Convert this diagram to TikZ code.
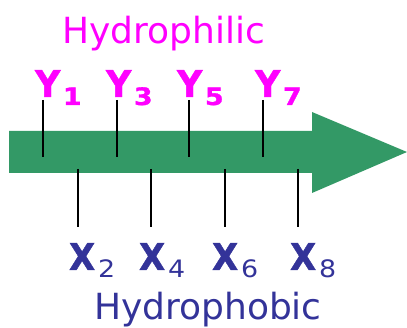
\documentclass[tikz,border=0pt]{standalone}
\usepackage{fontspec}
\setmainfont{DejaVu Sans}
\newfontfamily\heavyfont[FakeBold=1.2]{DejaVu Sans Bold}
\definecolor{arrowgreen}{HTML}{339966}
\definecolor{philc}{HTML}{FF00FF}
\definecolor{phobc}{HTML}{333399}
\newcommand\mkY[1]{\fontsize{37}{37}\heavyfont\scalebox{0.95}[1]{Y}\hspace{2.5pt}\raisebox{-8pt}{\fontsize{24}{24}\selectfont\scalebox{1.12}[1]{#1}}}
\newcommand\mkX[1]{{\fontsize{37}{37}\heavyfont\scalebox{0.92}[1]{X}}\hspace{3pt}\raisebox{-8pt}{\fontsize{24}{24}\selectfont\scalebox{1.12}[1]{#1}}}
\begin{document}
\begin{tikzpicture}[x=1pt,y=-1pt,
  lab/.style={anchor=base west,inner sep=0pt,outer sep=0pt},
  ylab/.style={lab,text=philc},
  xlab/.style={lab,text=phobc},
  ytick/.style={draw=black,line width=1.6pt},
  xtick/.style={draw=black,line width=1.3pt}]
\useasboundingbox (0,0) rectangle (407,328);
\fill[arrowgreen] (9,131) -- (312,131) -- (312,112) -- (407,152) -- (312,193) -- (312,173) -- (9,173) -- cycle;
\node[lab,text=philc,font=\fontsize{36}{36}\selectfont] (phil) at (62,44) {Hydrophilic};
\node[lab,text=phobc,font=\fontsize{36}{36}\selectfont] (phob) at (94,320) {Hydrophobic};
\foreach \n/\x/\l in {1/43/35,3/117/106,5/189/177,7/263/255}{
  \node[ylab] (Y\n) at (\l,97) {\mkY{\n}};
  \coordinate (yt\n) at (\x,100);
  \coordinate (yb\n) at (\x,157);
  \draw[ytick] (yt\n) -- (yb\n);
}
\foreach \n/\x/\l in {2/78/69,4/151/139,6/225/212,8/298/290}{
  \node[xlab] (X\n) at (\l,270) {\mkX{\n}};
  \coordinate (xt\n) at (\x,169);
  \coordinate (xb\n) at (\x,227);
  \draw[xtick] (xt\n) -- (xb\n);
}
\end{tikzpicture}
\end{document}
